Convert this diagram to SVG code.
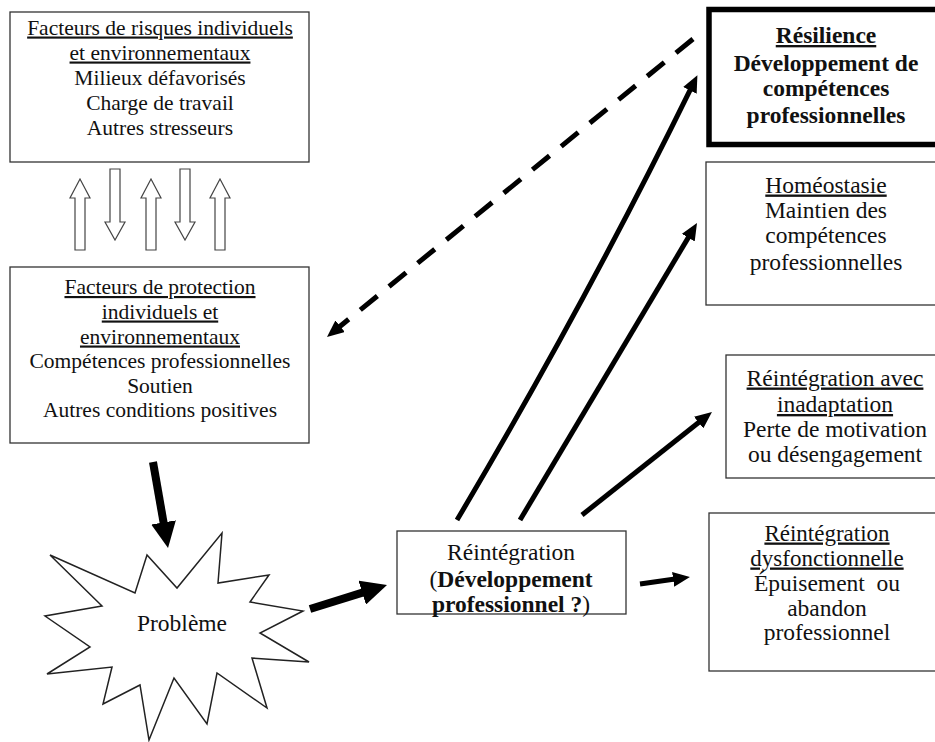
<svg xmlns="http://www.w3.org/2000/svg" width="935" height="742" viewBox="0 0 935 742">
<style>
text{font-size:21.5px;fill:#111;text-anchor:middle}
.big text{font-size:23.5px}
.u{text-decoration:underline}
.b{font-weight:bold}
.box{fill:#fff;stroke:#333;stroke-width:1.3}
.thick{fill:#fff;stroke:#000;stroke-width:5.5}
.hollow{fill:#fff;stroke:#444;stroke-width:1.2}
.conn{fill:none;stroke:#000;stroke-width:5}
.fat{fill:none;stroke:#000;stroke-width:8}
.dash{fill:none;stroke:#000;stroke-width:5;stroke-dasharray:22 15}
</style>
<defs>
<marker id="ah" markerUnits="userSpaceOnUse" markerWidth="18" markerHeight="15" refX="2" refY="7.5" orient="auto"><path d="M0,0 L17,7.5 L0,15 z" fill="#000" stroke="none"/></marker>
<marker id="ahf" markerUnits="userSpaceOnUse" markerWidth="27" markerHeight="25" refX="2" refY="12.5" orient="auto"><path d="M0,0 L26,12.5 L0,25 z" fill="#000" stroke="none"/></marker>
</defs>
<g font-family="'Liberation Serif', 'Times New Roman', 'DejaVu Serif', serif">
<g id="risques">
<rect class="box" x="10" y="12" width="299" height="150"/>
<text x="160" y="34.5" class="u">Facteurs de risques individuels</text>
<text x="160" y="59.5" class="u">et environnementaux</text>
<text x="160" y="85">Milieux défavorisés</text>
<text x="160" y="110">Charge de travail</text>
<text x="160" y="135">Autres stresseurs</text>
</g>

<g id="echanges">
<path class="hollow" d="M75,250 V198 H70 L80,179 L90,198 H85 V250 Z"/>
<path class="hollow" d="M146,250 V198 H141 L151,179 L161,198 H156 V250 Z"/>
<path class="hollow" d="M215,250 V198 H210 L220,179 L230,198 H225 V250 Z"/>
<path class="hollow" d="M110,169 V222 H105 L115,240 L125,222 H120 V169 Z"/>
<path class="hollow" d="M180,169 V222 H175 L185,240 L195,222 H190 V169 Z"/>
</g>

<g id="protection">
<rect class="box" x="10" y="267" width="299" height="176"/>
<text x="160" y="294" class="u">Facteurs de protection</text>
<text x="160" y="318.5" class="u">individuels et</text>
<text x="160" y="343.5" class="u">environnementaux</text>
<text x="160" y="368">Compétences professionnelles</text>
<text x="160" y="392.5">Soutien</text>
<text x="160" y="417">Autres conditions positives</text>
</g>

<g id="probleme" class="big">
<polygon fill="#fff" stroke="#222" stroke-width="1.5" stroke-linejoin="miter" points="50,555 135,593 147,555 177,588 222,533 218,583 269,575 250,602 303,611 260,633 309,662 252,658 267,708 217,673 207,724 174,678 149,740 140,685 103,704 112,667 47,674 90,647 45,616 102,606"/>
<text x="182" y="631">Problème</text>
</g>

<g id="reintegration" class="big">
<rect class="box" x="397" y="531" width="229" height="83"/>
<text x="511" y="560">Réintégration</text>
<text x="511" y="587">(<tspan class="b">Développement</tspan></text>
<text x="511" y="612"><tspan class="b">professionnel ?</tspan>)</text>
</g>

<g id="resilience" class="big">
<rect class="thick" x="709" y="9.5" width="240" height="135"/>
<text x="826" y="43" class="b u">Résilience</text>
<text x="826" y="70.5" class="b">Développement de</text>
<text x="826" y="96" class="b">compétences</text>
<text x="826" y="122.5" class="b">professionnelles</text>
</g>

<g id="homeostasie" class="big">
<rect class="box" x="706" y="162" width="240" height="143"/>
<text x="826" y="192.5" class="u">Homéostasie</text>
<text x="826" y="217.5">Maintien des</text>
<text x="826" y="243">compétences</text>
<text x="826" y="270">professionnelles</text>
</g>

<g id="inadaptation" class="big">
<rect class="box" x="726" y="355" width="220" height="123"/>
<text x="835" y="385.5" class="u">Réintégration avec</text>
<text x="835" y="412" class="u">inadaptation</text>
<text x="835" y="437">Perte de motivation</text>
<text x="835" y="461.5">ou désengagement</text>
</g>

<g id="dysfonctionnelle" class="big">
<rect class="box" x="709" y="513" width="240" height="158"/>
<text x="827" y="540.5" class="u" style="font-size:23px">Réintégration</text>
<text x="827" y="565.5" class="u" style="font-size:23px">dysfonctionnelle</text>
<text x="827" y="590.5" xml:space="preserve">Épuisement  ou</text>
<text x="827" y="615.5">abandon</text>
<text x="827" y="639.5">professionnel</text>
</g>
</g>
<g id="connecteurs">
<path class="fat" d="M153,462 L163.9,524.4" marker-end="url(#ahf)"/>
<path class="fat" d="M310,609 L364.1,592.1" marker-end="url(#ahf)"/>
<path class="conn" d="M457,520 Q585.8,302.8 690.8,88.6" marker-end="url(#ah)"/>
<path class="conn" d="M520,520 L689.3,235.9" marker-end="url(#ah)"/>
<path class="conn" d="M582,515 L700.2,421.3" marker-end="url(#ah)"/>
<path class="conn" d="M640,584 L675.1,579.1" marker-end="url(#ah)"/>
<path class="dash" d="M693,39 L338.6,327.5" marker-end="url(#ah)"/>
</g>
</svg>
